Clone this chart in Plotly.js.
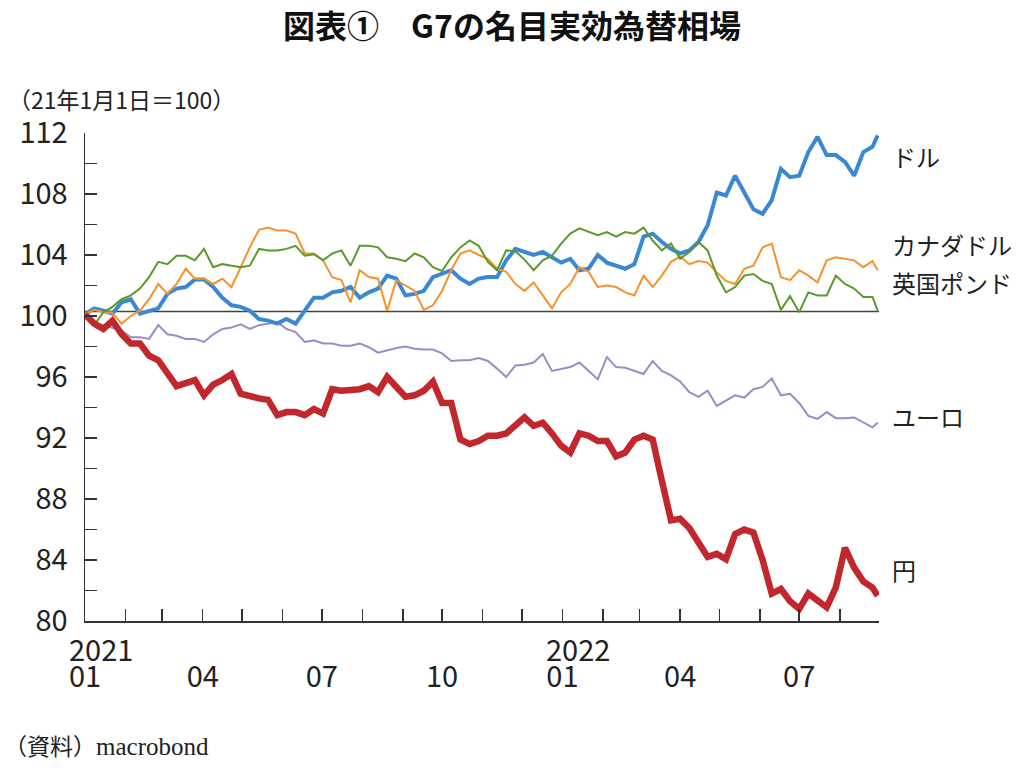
<!DOCTYPE html>
<html>
<head>
<meta charset="utf-8">
<script src="https://cdn.plot.ly/plotly-3.0.1.min.js"></script>
<style>
  html, body { margin: 0; padding: 0; background: #fff; }
  #grafica { width: 1024px; height: 768px; }
</style>
</head>
<body>
<div id="grafica"></div>
<script>
// 週次の日付 (2021/1/1 ～ 2022/8/30)
const fechas = [
  '2021-01-01','2021-01-08','2021-01-15','2021-01-22','2021-01-29','2021-02-05','2021-02-12','2021-02-19','2021-02-26',
  '2021-03-05','2021-03-12','2021-03-19','2021-03-26','2021-04-02','2021-04-09','2021-04-16','2021-04-23','2021-04-30',
  '2021-05-07','2021-05-14','2021-05-21','2021-05-28','2021-06-04','2021-06-11','2021-06-18','2021-06-25','2021-07-02',
  '2021-07-09','2021-07-16','2021-07-23','2021-07-30','2021-08-06','2021-08-13','2021-08-20','2021-08-27','2021-09-03',
  '2021-09-10','2021-09-17','2021-09-24','2021-10-01','2021-10-08','2021-10-15','2021-10-22','2021-10-29','2021-11-05',
  '2021-11-12','2021-11-19','2021-11-26','2021-12-03','2021-12-10','2021-12-17','2021-12-24','2021-12-31',
  '2022-01-07','2022-01-14','2022-01-21','2022-01-28','2022-02-04','2022-02-11','2022-02-18','2022-02-25','2022-03-04',
  '2022-03-11','2022-03-18','2022-03-25','2022-04-01','2022-04-08','2022-04-15','2022-04-22','2022-04-29','2022-05-06',
  '2022-05-13','2022-05-20','2022-05-27','2022-06-03','2022-06-10','2022-06-17','2022-06-24','2022-07-01','2022-07-08',
  '2022-07-15','2022-07-22','2022-07-29','2022-08-05','2022-08-12','2022-08-19','2022-08-26','2022-08-30'
];

const dolar = [
  100.1, 100.5, 100.35, 100.15, 100.9, 101.1, 100.15, 100.35, 100.5, 101.45, 101.8, 101.9, 102.4, 102.4, 101.9, 101.2, 100.7, 100.6, 100.35, 99.8, 99.7, 99.5,
  99.8, 99.5, 100.35, 101.2, 101.2, 101.55, 101.65, 101.9, 101.2, 101.55, 101.8, 102.65, 102.45, 101.35, 101.45, 101.65, 102.55, 102.75, 103.0, 102.45, 102.1, 102.45,
  102.55, 102.55, 103.65, 104.4, 104.2, 104.0, 104.2, 103.85, 103.5, 103.75, 103.0, 103.1, 104.0, 103.5, 103.3, 103.1, 103.4, 105.2, 105.4, 104.85, 104.4, 104.1,
  104.3, 104.85, 105.95, 108.1, 107.9, 109.2, 108.1, 107.0, 106.7, 107.6, 109.65, 109.1, 109.2, 110.75, 111.75, 110.55, 110.55, 110.1, 109.2, 110.75, 111.1, 111.85
];

const libra = [
  100.1, 99.4, 100.25, 100.6, 101.1, 101.35, 101.8, 102.55, 103.55, 103.4, 103.95, 103.95, 103.65, 104.4, 103.2, 103.4, 103.3, 103.2, 103.3, 104.4, 104.3, 104.3,
  104.4, 104.6, 103.95, 104.05, 103.65, 104.1, 104.3, 103.3, 104.6, 104.6, 104.5, 103.85, 103.75, 103.6, 104.1, 103.85, 103.2, 102.95, 103.85, 104.5, 104.95, 104.6,
  103.55, 103.0, 104.3, 104.25, 103.7, 103.0, 103.65, 103.95, 104.75, 105.4, 105.75, 105.5, 105.3, 105.5, 105.2, 105.5, 105.4, 105.8, 104.95, 104.3, 104.75, 103.75,
  104.2, 104.85, 104.3, 102.65, 101.55, 101.9, 102.65, 102.75, 102.3, 102.1, 100.4, 101.3, 100.25, 101.55, 101.35, 101.35, 102.65, 102.1, 101.8, 101.25, 101.25, 100.35
];

const dolarCanadiense = [
  100.1, 100.4, 100.25, 100.2, 99.5, 100.0, 100.35, 101.1, 102.1, 101.45, 102.1, 103.1, 102.45, 102.45, 102.1, 102.45, 101.9, 103.2, 104.5, 105.65, 105.8, 105.6,
  105.6, 105.4, 104.1, 104.1, 103.65, 102.55, 102.35, 100.9, 103.0, 102.55, 102.45, 100.35, 102.35, 102.0, 101.65, 100.4, 100.7, 101.65, 103.0, 104.1, 104.3, 104.0,
  103.75, 103.1, 102.9, 102.1, 101.65, 102.2, 101.35, 100.5, 101.55, 102.1, 103.2, 102.9, 101.9, 102.0, 101.9, 101.55, 101.35, 102.65, 101.9, 102.65, 103.55, 103.9,
  103.4, 103.6, 103.5, 102.85, 102.3, 102.1, 103.1, 103.3, 104.5, 104.75, 102.55, 102.35, 103.0, 102.65, 102.2, 103.65, 103.85, 103.75, 103.65, 103.2, 103.6, 103.0
];

const euro = [
  100.1, 99.6, 99.4, 99.25, 99.05, 98.6, 98.6, 98.5, 99.4, 98.8, 98.7, 98.5, 98.5, 98.3, 98.8, 99.15, 99.25, 99.45, 99.15, 99.4, 99.5, 99.6,
  99.15, 98.95, 98.3, 98.4, 98.2, 98.2, 98.05, 98.05, 98.2, 97.95, 97.6, 97.75, 97.9, 98.0, 97.85, 97.8, 97.8, 97.55, 97.05, 97.1, 97.1, 97.25,
  97.05, 96.55, 96.0, 96.75, 96.8, 96.95, 97.5, 96.4, 96.55, 96.65, 96.95, 96.4, 95.85, 97.3, 96.65, 96.6, 96.4, 96.2, 97.05, 96.4, 96.1, 95.7,
  95.0, 94.7, 95.1, 94.1, 94.45, 94.8, 94.65, 95.2, 95.35, 95.9, 94.8, 94.9, 94.3, 93.45, 93.25, 93.7, 93.3, 93.3, 93.35, 93.0, 92.7, 93.0
];

const yen = [
  100.1, 99.5, 99.15, 99.7, 98.8, 98.2, 98.2, 97.4, 97.1, 96.2, 95.4, 95.6, 95.8, 94.8, 95.5, 95.8, 96.2, 94.9, 94.7, 94.6, 94.5, 93.5,
  93.7, 93.7, 93.5, 93.9, 93.6, 95.2, 95.1, 95.1, 95.2, 95.4, 95.0, 96.0, 95.3, 94.7, 94.8, 95.1, 95.7, 94.3, 94.3, 91.9, 91.6, 91.8,
  92.15, 92.15, 92.3, 92.8, 93.35, 92.8, 93.0, 92.3, 91.5, 91.05, 92.3, 92.15, 91.8, 91.8, 90.8, 91.05, 91.9, 92.15, 91.9, 89.2, 86.6, 86.7,
  86.1, 85.15, 84.2, 84.4, 84.05, 85.7, 86.0, 85.8, 84.0, 81.8, 82.1, 81.3, 80.8, 81.8, 81.3, 80.9, 82.2, 84.8, 83.5, 82.6, 82.2, 81.65
];

// 目盛り
const mesesTicks = ['2021-01-01','2021-02-01','2021-03-01','2021-04-01','2021-05-01','2021-06-01','2021-07-01','2021-08-01',
  '2021-09-01','2021-10-01','2021-11-01','2021-12-01','2022-01-01','2022-02-01','2022-03-01','2022-04-01','2022-05-01',
  '2022-06-01','2022-07-01','2022-08-01'];
const mesesTexto = ['01','','','04','','','07','','','10','','','01','','','04','','','07',''];
const anios = ['2021', '2022'];
const aniosFecha = ['2021-01-01', '2022-01-01'];
const yTicks = [80,82,84,86,88,90,92,94,96,98,100,102,104,106,108,110,112];
const yTexto = yTicks.map(v => v % 4 === 0 ? String(v) : '');
const lineaBase = 100.3;

const nombres = ['ドル', 'カナダドル', '英国ポンド', 'ユーロ', '円'];
const nombresY = [110.45, 104.67, 102.2, 93.4, 83.4];

const fuente = '"Noto Sans CJK JP", "Noto Sans", sans-serif';

const serie = (y, color, ancho) => ({
  x: fechas, y: y, type: 'scatter', mode: 'lines',
  line: { color: color, width: ancho }, hoverinfo: 'skip'
});

const data = [
  serie(euro, '#9d8bc6', 2),
  serie(dolar, '#3a88d4', 4),
  serie(dolarCanadiense, '#f5922b', 2),
  serie(libra, '#5a9a2a', 2),
  serie(yen, '#c1272d', 6.5)
];

const anotaciones = [];
nombres.forEach((n, i) => {
  anotaciones.push({
    text: n, xref: 'paper', yref: 'y', x: 1.0135, y: nombresY[i],
    xanchor: 'left', yanchor: 'middle', showarrow: false,
    font: { family: fuente, size: 24, color: '#222' }
  });
});
anios.forEach((a, i) => {
  anotaciones.push({
    text: a, xref: 'x', yref: 'paper', x: aniosFecha[i], y: -0.055,
    xanchor: 'left', yanchor: 'middle', xshift: -18, showarrow: false,
    font: { family: fuente, size: 29, color: '#222' }
  });
});
anotaciones.push({
  text: '（21年1月1日＝100）', xref: 'paper', yref: 'paper', x: -0.1, y: 1.07,
  xanchor: 'left', yanchor: 'middle', showarrow: false,
  font: { family: fuente, size: 23, color: '#222' }
});
anotaciones.push({
  text: '（資料）<span style="font-family:\'Liberation Serif\', serif; font-size:25px">macrobond</span>',
  xref: 'paper', yref: 'paper', x: -0.105, y: -0.254,
  xanchor: 'left', yanchor: 'middle', showarrow: false,
  font: { family: fuente, size: 23, color: '#222' }
});

const layout = {
  width: 1024, height: 768,
  margin: { l: 85, r: 145, t: 133, b: 147 },
  paper_bgcolor: '#fff', plot_bgcolor: '#fff',
  font: { family: fuente, color: '#222' },
  showlegend: false,
  title: {
    text: '<b>図表①　G7の名目実効為替相場</b>',
    x: 0.5, xanchor: 'center', y: 0.965, yanchor: 'middle',
    font: { family: fuente, size: 32, color: '#111' }
  },
  xaxis: {
    type: 'date', range: ['2021-01-01', '2022-08-31'],
    showgrid: false, zeroline: false,
    showline: true, linecolor: '#333', linewidth: 1.5,
    ticks: 'inside', ticklen: 12, tickwidth: 1.5, tickcolor: '#333',
    tickmode: 'array', tickvals: mesesTicks, ticktext: mesesTexto,
    ticklabelstandoff: 30,
    tickfont: { family: fuente, size: 29, color: '#222' }
  },
  yaxis: {
    range: [80, 112],
    showgrid: false, zeroline: false,
    showline: true, linecolor: '#333', linewidth: 1.5,
    ticks: 'inside', ticklen: 12, tickwidth: 1.5, tickcolor: '#333',
    tickmode: 'array', tickvals: yTicks, ticktext: yTexto,
    ticklabelstandoff: 10,
    tickfont: { family: fuente, size: 29, color: '#222' }
  },
  shapes: [{
    type: 'line', xref: 'paper', yref: 'y', x0: 0, x1: 1, y0: lineaBase, y1: lineaBase,
    line: { color: '#444', width: 1.5 }, layer: 'below'
  }],
  annotations: anotaciones
};

Plotly.newPlot('grafica', data, layout, { displayModeBar: false, staticPlot: true });
</script>
</body>
</html>
